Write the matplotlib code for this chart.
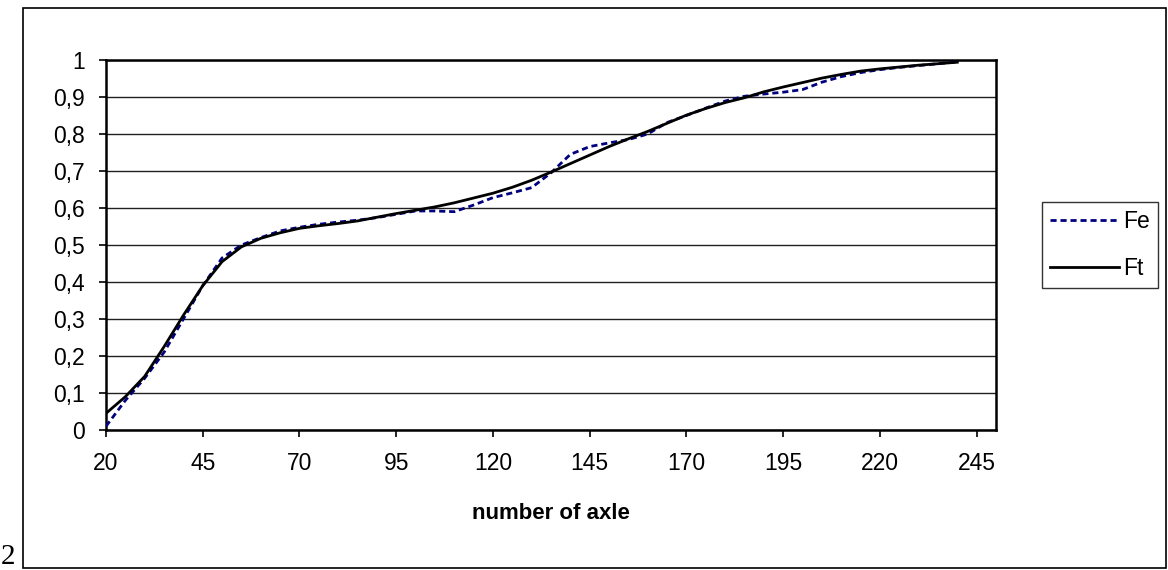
import matplotlib
matplotlib.use("Agg")
import matplotlib.pyplot as plt
from matplotlib.patches import Rectangle
from matplotlib.ticker import FixedLocator, FuncFormatter

# Data
x_vals = [20, 25, 30, 35, 40, 45, 50, 55, 60, 65, 70, 75, 80, 85, 90, 95, 100, 105,
          110, 115, 120, 125, 130, 135, 140, 145, 150, 155, 160, 165, 170, 175, 180,
          185, 190, 195, 200, 205, 210, 215, 220, 225, 230, 235, 240]
fe_vals = [0.01, 0.08, 0.14, 0.21, 0.30, 0.39, 0.465, 0.50, 0.52, 0.538, 0.548, 0.556,
           0.562, 0.567, 0.574, 0.583, 0.592, 0.592, 0.590, 0.608, 0.628, 0.641, 0.655,
           0.695, 0.745, 0.766, 0.776, 0.785, 0.800, 0.831, 0.850, 0.870, 0.889, 0.902,
           0.908, 0.913, 0.920, 0.940, 0.955, 0.966, 0.974, 0.980, 0.985, 0.990, 0.995]
ft_vals = [0.045, 0.09, 0.145, 0.225, 0.31, 0.39, 0.455, 0.495, 0.518, 0.533, 0.545,
           0.552, 0.558, 0.565, 0.575, 0.585, 0.594, 0.603, 0.614, 0.627, 0.640, 0.656,
           0.675, 0.697, 0.720, 0.743, 0.766, 0.787, 0.807, 0.829, 0.851, 0.869, 0.885,
           0.898, 0.914, 0.927, 0.939, 0.951, 0.961, 0.970, 0.976, 0.981, 0.986, 0.990,
           0.994]
x_ticks = [20, 45, 70, 95, 120, 145, 170, 195, 220, 245]
y_ticks = [0, 0.1, 0.2, 0.3, 0.4, 0.5, 0.6, 0.7, 0.8, 0.9, 1.0]
series_names = ["Fe", "Ft"]
x_label = "number of axle"

plt.rcParams['font.family'] = ['Liberation Sans', 'DejaVu Sans']

W, H = 1168, 570
fig = plt.figure(figsize=(W / 100, H / 100), dpi=100)

L, R, T, B = 106, 996, 60, 430
ax = fig.add_axes([L / W, 1 - B / H, (R - L) / W, (B - T) / H])

ax.plot(x_vals, fe_vals, color='#000080', linestyle=(0, (2.2, 1.4)), linewidth=2.0,
        label=series_names[0], zorder=3, solid_joinstyle='round')
ax.plot(x_vals, ft_vals, color='black', linewidth=2.0, label=series_names[1], zorder=4,
        solid_joinstyle='round')

ax.set_xlim(20, 250)
ax.set_ylim(0, 1)
ax.xaxis.set_major_locator(FixedLocator(x_ticks))
ax.yaxis.set_major_locator(FixedLocator(y_ticks))

def comma_fmt(v, pos):
    if abs(v - round(v)) < 1e-9:
        return str(int(round(v)))
    return f"{v:.1f}".replace('.', ',')

ax.yaxis.set_major_formatter(FuncFormatter(comma_fmt))
ax.xaxis.set_major_formatter(FuncFormatter(lambda v, p: str(int(v))))

ax.grid(axis='y', color='#202020', linewidth=1.0, zorder=1)
ax.set_axisbelow(True)
for sp in ax.spines.values():
    sp.set_linewidth(1.8)
    sp.set_color('black')

ax.tick_params(axis='both', direction='out', length=5, width=1.2, labelsize=16.5,
               colors='black')
ax.tick_params(axis='y', pad=10)
ax.tick_params(axis='x', pad=11)

ax.set_xlabel(x_label, fontsize=16, fontweight='bold', labelpad=20)

leg = fig.legend(loc='upper left', bbox_to_anchor=(1042 / W, 1 - 202 / H),
                 fontsize=16.5, frameon=True, fancybox=False, shadow=False,
                 handlelength=3.0, handletextpad=0.2, borderpad=0.35,
                 labelspacing=1.05, borderaxespad=0, markerfirst=True)
leg.get_frame().set_edgecolor('black')
leg.get_frame().set_linewidth(1.0)

# Outer frame
fig.patches.append(Rectangle((23 / W, 1 - 568 / H), (1166 - 23) / W, (568 - 8) / H,
                             transform=fig.transFigure, fill=False,
                             edgecolor='black', linewidth=1.2))

fig.text(1 / W, 1 - 570 / H, "2", fontsize=21, family=['Liberation Serif'],
         ha='left', va='bottom')

fig.savefig("out.png", dpi=100)
